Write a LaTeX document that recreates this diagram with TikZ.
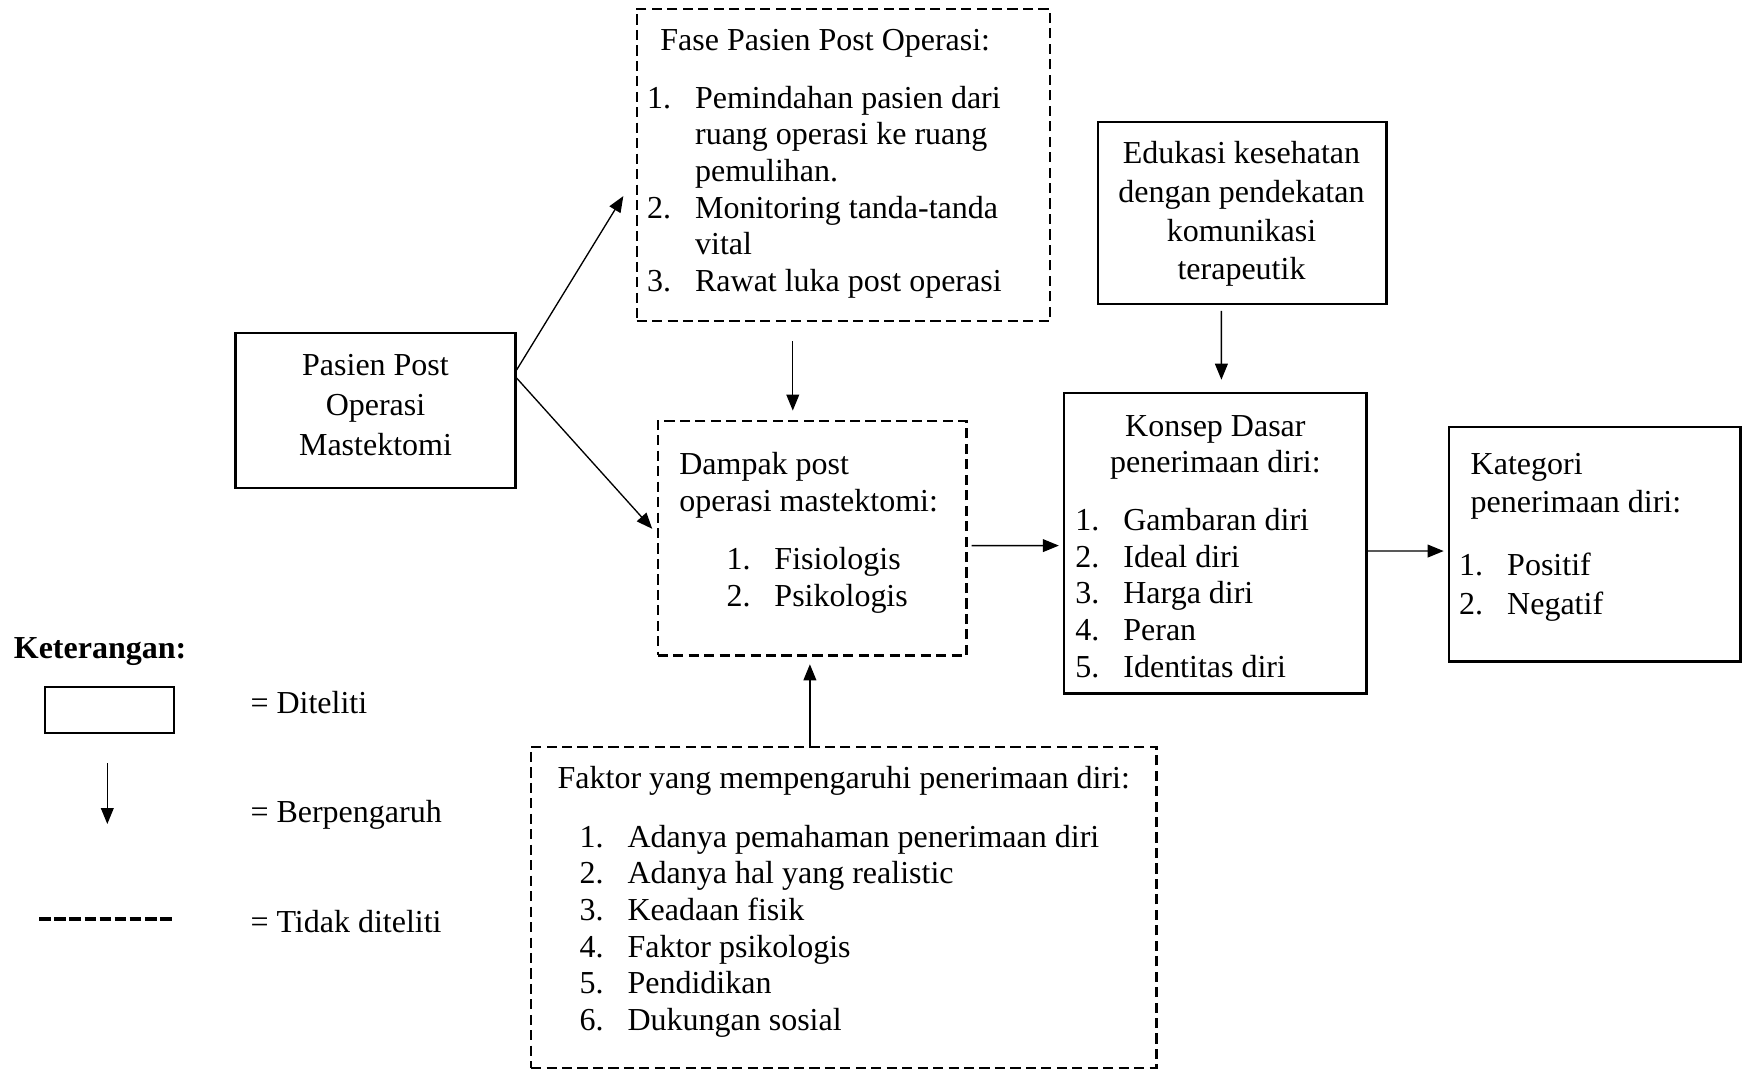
\documentclass[tikz,border=0pt,12pt]{standalone}
\usepackage{fontspec}
\setmainfont{Liberation Serif}
\usetikzlibrary{
    calc,
    arrows.meta
}

\newcommand{\nomor}[1]{\makebox[18pt][l]{#1}}

\tikzset{
    solidbox/.style={draw, line width=0.8pt, inner sep=0pt},
    dashbox/.style={draw, line width=0.8pt, dash pattern=on 3.8pt off 2pt, inner sep=0pt},
    listtxt/.style={inner sep=0pt, align=left, anchor=base west, font=\fontsize{12}{13.75}\selectfont},
    midtxt/.style={inner sep=0pt, align=center, anchor=base},
    arr/.style={line width=0.5pt, -{Triangle[length=6pt,width=4.8pt]}}
}

\begin{document}
\begin{tikzpicture}[x=0.4167pt,y=-0.4167pt, font=\fontsize{12}{13.75}\selectfont]

\useasboundingbox (0,0) rectangle (1568,962);

% kotak
\node[solidbox, minimum width=105pt, minimum height=57.9pt] (pasien) at (338,369.5) {};
\node[dashbox, minimum width=155pt, minimum height=117.1pt] (fase) at (759,148.5) {};
\node[dashbox, minimum width=115.8pt, minimum height=87.9pt] (dampak) at (731,484.5) {};
\node[solidbox, minimum width=108.3pt, minimum height=68.3pt] (edukasi) at (1118,192) {};
\node[solidbox, minimum width=113.3pt, minimum height=112.7pt] (konsep) at (1094,489) {};
\node[solidbox, minimum width=109.5pt, minimum height=88.1pt] (kategori) at (1435.3,489.7) {};
\node[dashbox, minimum width=234.6pt, minimum height=120.4pt] (faktor) at (759.5,816.5) {};

% teks (jangkar pada garis dasar baris terakhir)
\node[midtxt, font=\fontsize{12}{15}\selectfont] (pasientxt) at (338,410)
    {Pasien Post\\Operasi\\Mastektomi};
\node[midtxt, font=\fontsize{12}{14.5}\selectfont] (edukasitxt) at (1117.5,252)
    {Edukasi kesehatan\\dengan pendekatan\\komunikasi\\terapeutik};
\node[listtxt] (fasetxt) at (582,262.5)
    {\hspace*{5pt}Fase Pasien Post Operasi:\\[8.1pt]
     \nomor{1.}Pemindahan pasien dari\\
     \nomor{}ruang operasi ke ruang\\
     \nomor{}pemulihan.\\
     \nomor{2.}Monitoring tanda-tanda\\
     \nomor{}vital\\
     \nomor{3.}Rawat luka post operasi};
\node[listtxt] (dampaktxt) at (611,545.5)
    {Dampak post\\
     operasi mastektomi:\\[8.1pt]
     \hspace*{17.7pt}\nomor{1.}Fisiologis\\
     \hspace*{17.7pt}\nomor{2.}Psikologis};
\node[midtxt] (konsepjudul) at (1094,425.5)
    {Konsep Dasar\\penerimaan diri:};
\node[listtxt] (konseptxt) at (967.5,609.5)
    {\nomor{1.}Gambaran diri\\
     \nomor{2.}Ideal diri\\
     \nomor{3.}Harga diri\\
     \nomor{4.}Peran\\
     \nomor{5.}Identitas diri};
\node[listtxt, font=\fontsize{12}{14.4}\selectfont] (kategoritxt) at (1313,553)
    {\hspace*{4.3pt}Kategori\\
     \hspace*{4.3pt}penerimaan diri:\\[9.4pt]
     \nomor{1.}Positif\\
     \nomor{2.}Negatif};
\node[listtxt] (faktortxt) at (501.5,927.5)
    {Faktor yang mempengaruhi penerimaan diri:\\[8.1pt]
     \hspace*{8.2pt}\nomor{1.}Adanya pemahaman penerimaan diri\\
     \hspace*{8.2pt}\nomor{2.}Adanya hal yang realistic\\
     \hspace*{8.2pt}\nomor{3.}Keadaan fisik\\
     \hspace*{8.2pt}\nomor{4.}Faktor psikologis\\
     \hspace*{8.2pt}\nomor{5.}Pendidikan\\
     \hspace*{8.2pt}\nomor{6.}Dukungan sosial};

% panah
\draw[arr] (pasien.16) -- ($(fase.west)+(-11,28)$);
\draw[arr] (pasien.13) -- ($(dampak.west)+(-4,-8.5)$);
\draw[arr] ($(fase.south)+(-45.4,17)$) -- ($(dampak.north)+(-17.4,-8.5)$);
\draw[arr] ($(edukasi.south)+(-18.6,5)$) -- ($(konsep.north)+(5.4,-11)$);
\draw[arr] ($(dampak.east)+(3.7,6.6)$) -- ($(konsep.west)+(-4,2.1)$);
\draw[arr] ($(konsep.east)+(0,7)$) -- ($(kategori.west)+(-3.5,6.3)$);
\draw[arr] ($(faktor.north)+(-30.5,0)$) -- ($(dampak.south)+(-2,7)$);

% keterangan
\node[inner sep=0pt, anchor=base west, font=\fontsize{12}{13.75}\selectfont\bfseries] (keterangan) at (12,592.5) {Keterangan:};
\node[solidbox, minimum width=48.3pt, minimum height=17.5pt] (legkotak) at (98.5,639) {};
\coordinate (legatas) at (96.6,687);
\coordinate (legujung) at (96.6,741.7);
\draw[arr] (legatas) -- (legujung);
\coordinate (garisA) at (35.4,827);
\coordinate (garisB) at (156,827);
\draw[line width=1.5pt, dash pattern=on 4.4pt off 1.25pt] (garisA) -- (garisB);
\node[inner sep=0pt, anchor=base west] (diteliti) at (225,642) {= Diteliti};
\node[inner sep=0pt, anchor=base west] (berpengaruh) at (225,740.5) {= Berpengaruh};
\node[inner sep=0pt, anchor=base west] (tidakditeliti) at (225,839.5) {= Tidak diteliti};

\end{tikzpicture}
\end{document}
